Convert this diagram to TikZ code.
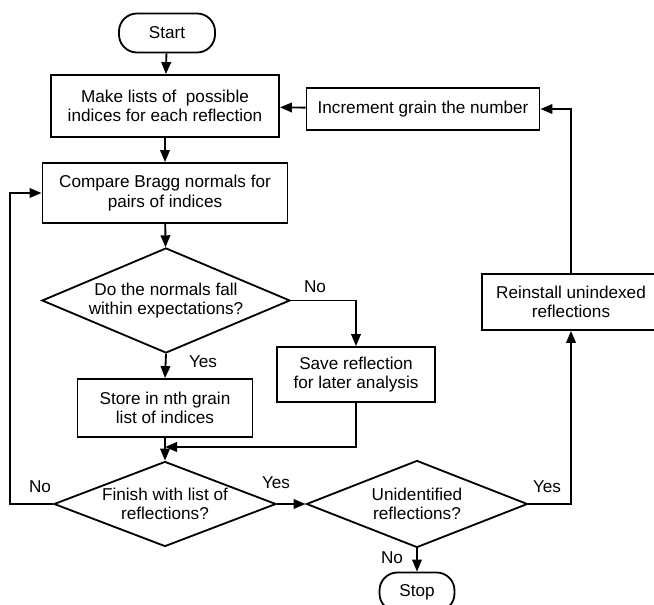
\documentclass[tikz,border=0pt]{standalone}
\usepackage{fontspec}
\setmainfont{Liberation Sans}
\usepackage{tikz}
\usetikzlibrary{shapes.geometric, arrows.meta, calc}

\tikzset{
  txt/.style={font=\fontsize{12.2}{13.8}\selectfont},
  box/.style={txt, draw, line width=1.3pt, align=center, inner sep=1pt},
  term/.style={box, rounded corners=0.45cm},
  decide/.style={txt, draw, line width=1.3pt, diamond, align=center, inner sep=0pt},
  lbl/.style={txt, inner sep=0pt},
  flow/.style={line width=1.3pt, -{Triangle[length=3mm, width=2.4mm]}},
}

\begin{document}
\begin{tikzpicture}[x=0.025cm, y=-0.025cm]
    \useasboundingbox (0,0) rectangle (654,605);
    % boxes
    \node[term, minimum width=2.4cm, minimum height=0.975cm] (start) at (167,33) {Start};
    \node[box, minimum width=5.7cm, minimum height=1.55cm] (lists) at (165,106) {Make lists of \ possible\\indices for each reflection};
    \node[box, minimum width=5.825cm, minimum height=1.05cm] (incr) at (423,109) {Increment grain the number};
    \node[box, minimum width=6.125cm, minimum height=1.5cm] (compare) at (165,193) {Compare Bragg normals for\\pairs of indices};
    \node[decide, aspect=2.36, minimum width=6.2cm, minimum height=2.625cm] (normals) at (166,300.5) {Do the normals fall\\within expectations?};
    \node[box, minimum width=3.95cm, minimum height=1.375cm] (save) at (356,374.5) {Save reflection\\for later analysis};
    \node[box, minimum width=4.375cm, minimum height=1.45cm] (store) at (165,408) {Store in nth grain\\list of indices};
    \node[decide, aspect=2.6, minimum width=5.55cm, minimum height=2.125cm] (finish) at (165,504) {Finish with list of\\reflections?};
    \node[decide, aspect=2.54, minimum width=5.525cm, minimum height=2.175cm] (unident) at (417,504) {Unidentified\\reflections?};
    \node[box, minimum width=4.95cm, minimum height=1.4cm] (reinst) at (581,302) {\hspace{-0.5cm}Reinstall unindexed\\\hspace{-0.5cm}reflections};
    \node[term, minimum width=1.875cm, minimum height=0.975cm] (stop) at (417,592) {Stop};

    % labels
    \node[lbl] (noa) at (315,287) {No};
    \node[lbl] (yesa) at (203,362) {Yes};
    \node[lbl] (yesb) at (276,483) {Yes};
    \node[lbl] (nob) at (40,487) {No};
    \node[lbl] (yesc) at (547,487) {Yes};
    \node[lbl] (noc) at (392,558) {No};

    \coordinate (merge) at ($(store.south)!0.4!(finish.north)$);
    \coordinate (riser) at (571,0);

    % connectors
    \draw[flow] (start) -- (lists);
    \draw[flow] (lists) -- (compare);
    \draw[flow] (compare) -- (normals);
    \draw[flow] (incr) -- (lists);
    \draw[flow] (riser |- reinst.north) |- (incr.east);
    \draw[flow] (normals.east) -| (save.north);
    \draw[flow] (normals.south) -- (store.north);
    \draw[flow] (save.south) |- (merge);
    \draw[flow] (store.south) -- (finish.north);
    \draw[flow] (finish.east) -- (unident.west);
    \draw[flow] (finish.west) -- ++(-43,0) |- (compare.west);
    \draw[flow] (unident.east) -| (riser |- reinst.south);
    \draw[flow] (unident.south) -- (stop.north);
\end{tikzpicture}
\end{document}
